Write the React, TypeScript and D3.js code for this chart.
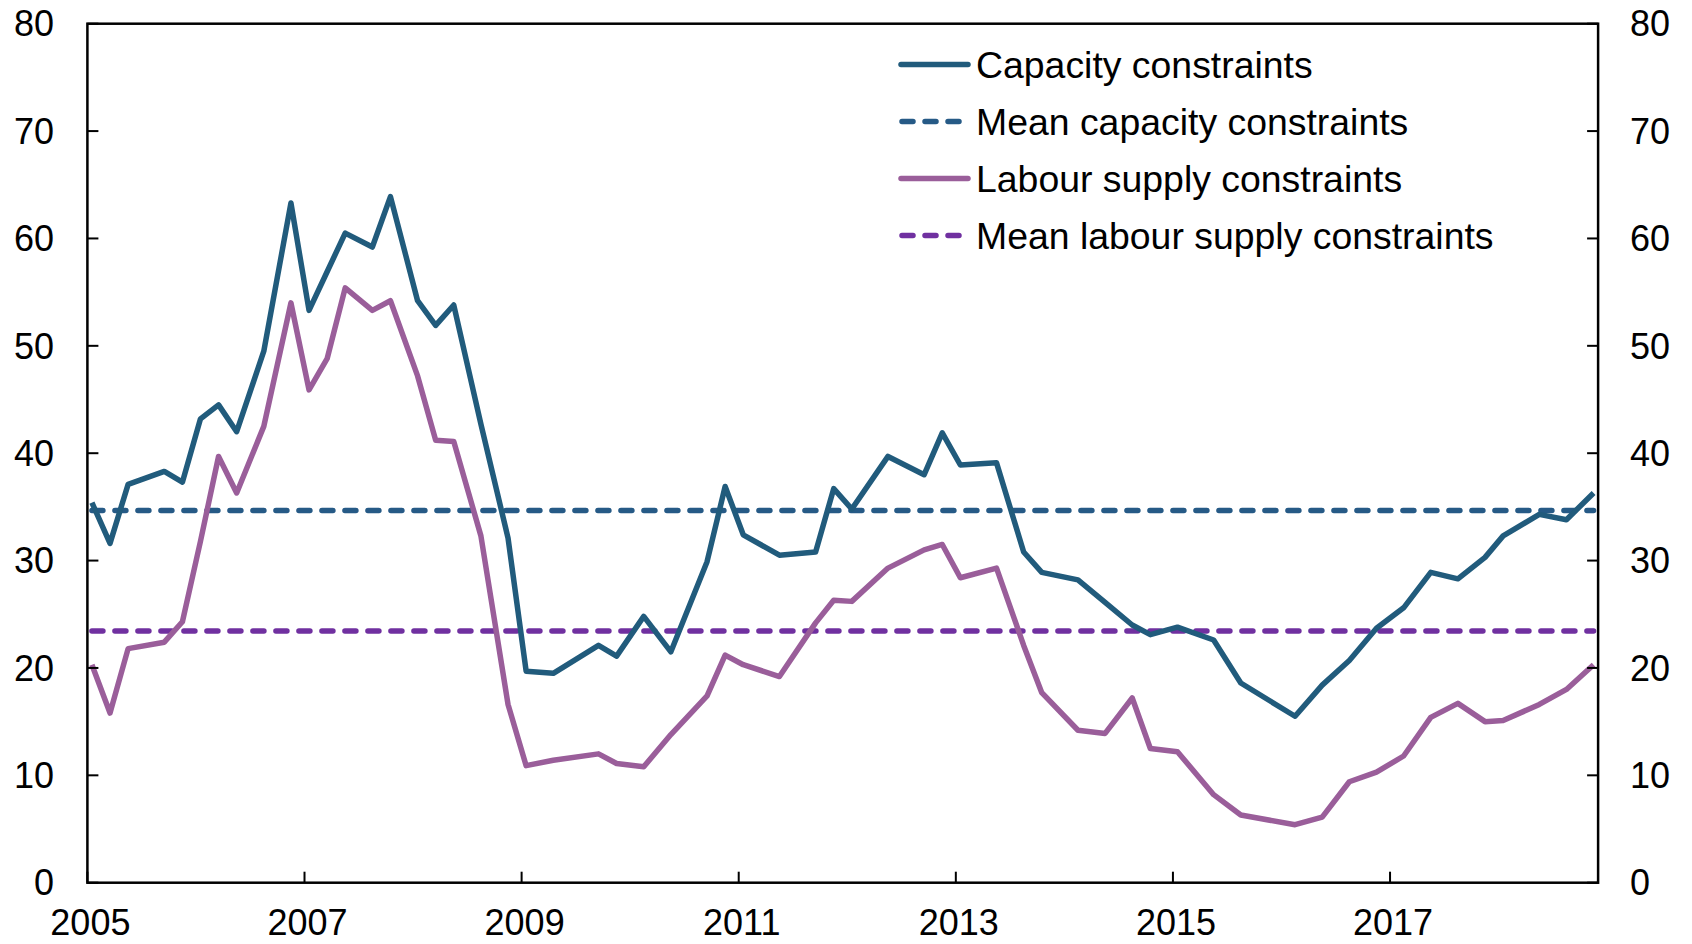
import React from 'react';
import * as d3 from 'd3';

// survey months (YYYY-MM)
const dates = [
  '2005-01', '2005-03', '2005-05', '2005-09', '2005-11',
  '2006-01', '2006-03', '2006-05', '2006-08', '2006-11',
  '2007-01', '2007-03', '2007-05', '2007-08', '2007-10',
  '2008-01', '2008-03', '2008-05', '2008-08', '2008-11',
  '2009-01', '2009-04', '2009-09', '2009-11',
  '2010-02', '2010-05', '2010-09', '2010-11',
  '2011-01', '2011-05', '2011-09', '2011-11',
  '2012-01', '2012-05', '2012-09', '2012-11',
  '2013-01', '2013-05', '2013-08', '2013-10',
  '2014-02', '2014-05', '2014-08', '2014-10',
  '2015-01', '2015-05', '2015-08',
  '2016-02', '2016-05', '2016-08', '2016-11',
  '2017-02', '2017-05', '2017-08', '2017-11',
  '2018-01', '2018-05', '2018-08', '2018-11',
];

const capacity = [
  35.4, 31.6, 37.1, 38.3, 37.3,
  43.2, 44.5, 42.0, 49.5, 63.3,
  53.3, 56.9, 60.5, 59.2, 63.9,
  54.2, 51.9, 53.8, 42.7, 32.1,
  19.7, 19.5, 22.1, 21.1,
  24.8, 21.5, 29.9, 36.9,
  32.4, 30.5, 30.8, 36.7,
  34.8, 39.7, 38.0, 41.9,
  38.9, 39.1, 30.8, 28.9,
  28.2, 26.1, 24.0, 23.1,
  23.8, 22.6, 18.6,
  15.5, 18.4, 20.7, 23.7,
  25.6, 28.9, 28.3, 30.3,
  32.3, 34.3, 33.8, 36.3,
];

const labour = [
  20.3, 15.8, 21.8, 22.4, 24.3,
  31.8, 39.7, 36.3, 42.5, 54.0,
  45.9, 48.8, 55.4, 53.3, 54.2,
  47.2, 41.2, 41.1, 32.3, 16.6,
  10.9, 11.4, 12.0, 11.1,
  10.8, 13.8, 17.4, 21.2,
  20.3, 19.2, 24.2, 26.3,
  26.2, 29.3, 31.0, 31.5,
  28.4, 29.3, 22.1, 17.7,
  14.2, 13.9, 17.2, 12.5,
  12.2, 8.2, 6.3,
  5.4, 6.1, 9.4, 10.3,
  11.8, 15.4, 16.7, 15.0,
  15.1, 16.6, 18.0, 20.3,
];

const meanCapacity = 34.67;
const meanLabour = 23.45;

const yTicks = [0, 10, 20, 30, 40, 50, 60, 70, 80];
const xTicks = [2005, 2007, 2009, 2011, 2013, 2015, 2017];

const legendItems = [
  { label: 'Capacity constraints', color: '#215b7c', dashed: false },
  { label: 'Mean capacity constraints', color: '#265a86', dashed: true },
  { label: 'Labour supply constraints', color: '#9a5e9a', dashed: false },
  { label: 'Mean labour supply constraints', color: '#7030a0', dashed: true },
];

const W = 1692;
const H = 944;
const left = 87.4;
const right = 1598.1;
const top = 23.7;
const bottom = 882.7;
const font = '"Liberation Sans", Arial, sans-serif';
const dash = '11,12';

// month categories: each month sits in the middle of its slot
const toYear = (d: string) => {
  const [y, m] = d.split('-').map(Number);
  return y + (m - 0.5) / 12;
};

const App = () => {
  const x = d3.scaleLinear().domain([2005, 2005 + 167 / 12]).range([left, right]);
  const y = d3.scaleLinear().domain([0, 80]).range([bottom, top]);

  const line = d3.line<number>()
    .x((_, i) => x(toYear(dates[i])))
    .y(d => y(d));

  const x0 = x(toYear(dates[0]));
  const x1 = x(toYear(dates[dates.length - 1]));

  return (
    <svg width={W} height={H} style={{ position: 'absolute', left: 0, top: 0, background: '#fff' }}>
      {/* mean lines */}
      <line x1={x0} x2={x1} y1={y(meanCapacity)} y2={y(meanCapacity)}
        stroke="#265a86" strokeWidth={5.5} strokeDasharray={dash} strokeLinecap="round" />
      <line x1={x0} x2={x1} y1={y(meanLabour)} y2={y(meanLabour)}
        stroke="#7030a0" strokeWidth={5.5} strokeDasharray={dash} strokeLinecap="round" />

      {/* series */}
      <path d={line(labour) ?? ''} fill="none" stroke="#9a5e9a" strokeWidth={5.5} strokeLinejoin="round" />
      <path d={line(capacity) ?? ''} fill="none" stroke="#215b7c" strokeWidth={5.5} strokeLinejoin="round" />

      {/* frame */}
      <rect x={left} y={top} width={right - left} height={bottom - top} fill="none" stroke="#000" strokeWidth={2.5} />

      {/* y ticks, both sides */}
      {yTicks.map(t => (
        <g key={'y' + t}>
          <line x1={left} x2={left + 11} y1={y(t)} y2={y(t)} stroke="#000" strokeWidth={2} />
          <line x1={right - 11} x2={right} y1={y(t)} y2={y(t)} stroke="#000" strokeWidth={2} />
          <text x={54} y={y(t) + 12.7} textAnchor="end" fontFamily={font} fontSize={36} fill="#000">{t}</text>
          <text x={1630} y={y(t) + 12.7} textAnchor="start" fontFamily={font} fontSize={36} fill="#000">{t}</text>
        </g>
      ))}

      {/* x ticks */}
      {xTicks.map(t => (
        <g key={'x' + t}>
          <line x1={x(t)} x2={x(t)} y1={bottom} y2={bottom - 11} stroke="#000" strokeWidth={2} />
          <text x={x(t) + 3} y={935} textAnchor="middle" fontFamily={font} fontSize={36} fill="#000">{t}</text>
        </g>
      ))}

      {/* legend */}
      {legendItems.map((item, i) => {
        const ly = 64.5 + i * 57;
        return (
          <g key={item.label}>
            {item.dashed ? (
              <line x1={902} x2={962} y1={ly} y2={ly} stroke={item.color} strokeWidth={5.5}
                strokeDasharray={dash} strokeLinecap="round" />
            ) : (
              <line x1={901} x2={968} y1={ly} y2={ly} stroke={item.color} strokeWidth={5.5} strokeLinecap="round" />
            )}
            <text x={976} y={ly + 13} fontFamily={font} fontSize={37.4} fill="#000">{item.label}</text>
          </g>
        );
      })}
    </svg>
  );
};

export default App;
